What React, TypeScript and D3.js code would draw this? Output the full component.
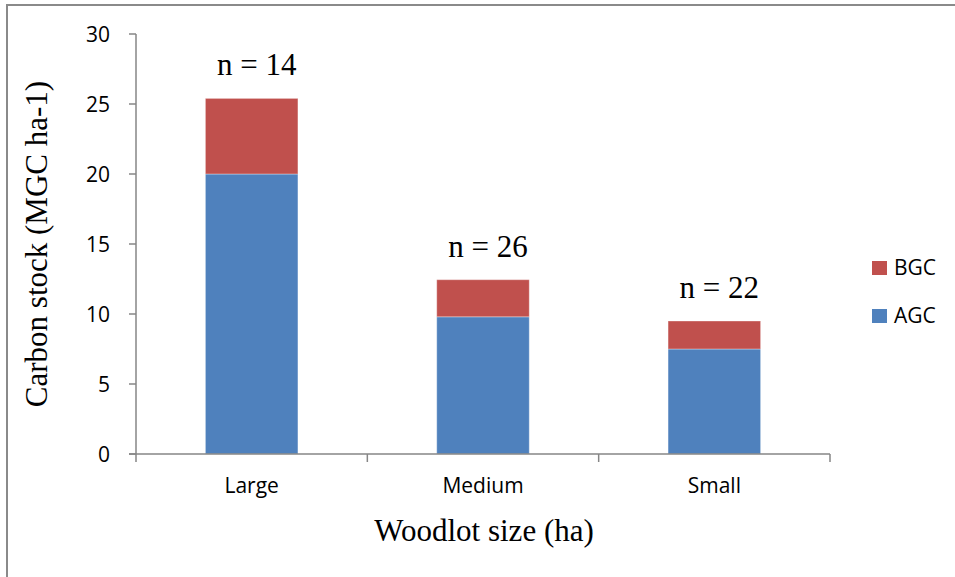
import React from "react";
import * as d3 from "d3";

const categories = ["Large", "Medium", "Small"];
const agcValues = [20.0, 9.8, 7.5];
const bgcValues = [5.4, 2.65, 2.0];
const sampleLabels = ["n = 14", "n = 26", "n = 22"];
const yTicks = [0, 5, 10, 15, 20, 25, 30];
const seriesNames = ["AGC", "BGC"];
const seriesColors = ["#4F81BD", "#C0504D"];

const W = 955;
const H = 577;
const plot = { left: 136, right: 830, top: 34, bottom: 454 };
const axisColor = "#868686";
const sansFont = "'Open Sans', 'Liberation Sans', sans-serif";
const serifFont = "'Liberation Serif', 'Times New Roman', serif";

export default function App() {
  const x = d3
    .scaleBand<string>()
    .domain(categories)
    .range([plot.left, plot.right])
    .paddingInner(0.6)
    .paddingOuter(0.3);
  const outer = d3.scaleBand<string>().domain(categories).range([plot.left, plot.right]);
  const y = d3.scaleLinear().domain([0, 30]).range([plot.bottom, plot.top]);

  const rows = categories.map((c, i) => ({ cat: c, AGC: agcValues[i], BGC: bgcValues[i] }));
  const stacked = d3.stack<any>().keys(seriesNames)(rows);

  const boundaries = [...categories.map((c) => outer(c) as number), plot.right];

  return (
    <svg
      width={W}
      height={H}
      style={{ position: "absolute", left: 0, top: 0, background: "#fff" }}
    >
      <rect x={0} y={0} width={W} height={H} fill="#fff" />
      <rect x={7} y={5} width={W + 20} height={H + 20} fill="none" stroke="#8a8a8a" strokeWidth={2} />

      {/* bars */}
      {stacked.map((s, si) =>
        s.map((d, i) => (
          <rect
            key={`${si}-${i}`}
            x={x(categories[i])}
            y={y(d[1])}
            width={x.bandwidth()}
            height={y(d[0]) - y(d[1])}
            fill={seriesColors[si]}
            stroke="#ffffff"
            strokeOpacity={0.35}
            strokeWidth={1}
          />
        ))
      )}

      {/* y axis */}
      <line x1={plot.left} x2={plot.left} y1={plot.top} y2={plot.bottom} stroke={axisColor} strokeWidth={1.5} />
      {yTicks.map((t) => (
        <g key={t}>
          <line x1={plot.left - 7} x2={plot.left} y1={y(t)} y2={y(t)} stroke={axisColor} strokeWidth={1.5} />
          <text
            x={110}
            y={y(t)}
            dy="0.36em"
            textAnchor="end"
            fontFamily={sansFont}
            fontSize={21}
            fill="#000"
          >
            {t}
          </text>
        </g>
      ))}

      {/* x axis */}
      <line x1={plot.left - 7} x2={plot.right} y1={plot.bottom} y2={plot.bottom} stroke={axisColor} strokeWidth={1.5} />
      {boundaries.map((bx, i) => (
        <line key={i} x1={bx} x2={bx} y1={plot.bottom} y2={plot.bottom + 8} stroke={axisColor} strokeWidth={1.5} />
      ))}
      {categories.map((c) => (
        <text
          key={c}
          x={(x(c) as number) + x.bandwidth() / 2}
          y={493}
          textAnchor="middle"
          fontFamily={sansFont}
          fontSize={21}
          fill="#000"
        >
          {c}
        </text>
      ))}

      {/* sample size labels */}
      {categories.map((c, i) => (
        <text
          key={`n-${c}`}
          x={(x(c) as number) + x.bandwidth() / 2 + 5}
          y={y(agcValues[i] + bgcValues[i]) - 23}
          textAnchor="middle"
          fontFamily={serifFont}
          fontSize={31}
          fill="#000"
        >
          {sampleLabels[i]}
        </text>
      ))}

      {/* axis titles */}
      <text
        x={484}
        y={541}
        textAnchor="middle"
        fontFamily={serifFont}
        fontSize={31}
        fill="#000"
      >
        Woodlot size (ha)
      </text>
      <text
        transform={`translate(47, 244) rotate(-90)`}
        textAnchor="middle"
        fontFamily={serifFont}
        fontSize={31}
        fill="#000"
      >
        Carbon stock (MGC ha-1)
      </text>

      {/* legend */}
      {[1, 0].map((si, k) => (
        <g key={si} transform={`translate(872, ${261 + k * 48})`}>
          <rect x={0} y={0} width={15} height={14} fill={seriesColors[si]} />
          <text x={22} y={14} fontFamily={sansFont} fontSize={21} fill="#000">
            {seriesNames[si]}
          </text>
        </g>
      ))}
    </svg>
  );
}
